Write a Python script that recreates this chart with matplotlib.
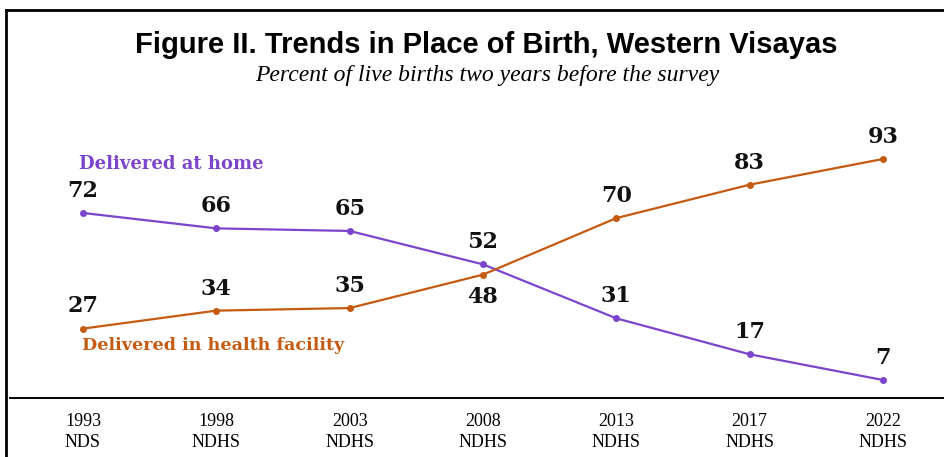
import matplotlib.pyplot as plt
from matplotlib.lines import Line2D

# trendy mista porodu, Western Visayas
roky = ['1993\nNDS', '1998\nNDHS', '2003\nNDHS', '2008\nNDHS', '2013\nNDHS', '2017\nNDHS', '2022\nNDHS']
doma = [72, 66, 65, 52, 31, 17, 7]
zarizeni = [27, 34, 35, 48, 70, 83, 93]

fialova = '#7B45CC'
oranzova = '#C55A11'

W, H = 944, 457
fig = plt.figure(figsize=(W / 100, H / 100), dpi=100)

# osa: nula na y=398 px, 100 % ~ 257 px
ax = fig.add_axes([10 / W, (H - 398) / H, 1 - 10 / W, 257 / H])
x = list(range(len(roky)))
ax.plot(x, doma, color=fialova, lw=1.6, marker='o', ms=4)
ax.plot(x, zarizeni, color=oranzova, lw=1.6, marker='o', ms=4)
ax.set_xlim((10 - 83) / 133.33, 6 + (W - 883) / 133.33)
ax.set_ylim(0, 100)

for s in ['top', 'right', 'left']:
    ax.spines[s].set_visible(False)
ax.spines['bottom'].set_linewidth(1.4)
ax.set_yticks([])
ax.set_xticks(x)
ax.set_xticklabels(roky, fontfamily='Liberation Serif', fontsize=13, linespacing=1.25)
ax.tick_params(axis='x', length=0, pad=11)

# popisky hodnot
lab = dict(ha='center', fontsize=16, fontweight='bold', fontfamily='DejaVu Serif', color='#111111')
for i, v in enumerate(doma):
    ax.annotate(str(v), (i, v), xytext=(0, 8), textcoords='offset points', va='bottom', **lab)
for i, v in enumerate(zarizeni):
    if i == 3:
        ax.annotate(str(v), (i, v), xytext=(0, -8), textcoords='offset points', va='top', **lab)
    else:
        ax.annotate(str(v), (i, v), xytext=(0, 8), textcoords='offset points', va='bottom', **lab)

ax.text(-0.03, 91, 'Delivered at home', color=fialova, fontsize=13, fontweight='bold',
        fontfamily='DejaVu Serif', va='center', ha='left')
ax.text(-0.01, 20.5, 'Delivered in health facility', color=oranzova, fontsize=12.6, fontweight='bold',
        fontfamily='DejaVu Serif', va='center', ha='left')

# nadpis
fig.text(486 / W, 1 - 45 / H, 'Figure II. Trends in Place of Birth, Western Visayas',
         ha='center', va='center', fontsize=21, fontweight='bold', fontfamily='Liberation Sans')
fig.text(487 / W, 1 - 76 / H, 'Percent of live births two years before the survey',
         ha='center', va='center', fontsize=17, style='italic', fontfamily='Liberation Serif')

# ramecek
fig.add_artist(Line2D([6 / W, 1], [1 - 10 / H, 1 - 10 / H], color='black', lw=2))
fig.add_artist(Line2D([6 / W, 6 / W], [0, 1 - 10 / H], color='black', lw=2))

fig.savefig('out.png', dpi=100)
